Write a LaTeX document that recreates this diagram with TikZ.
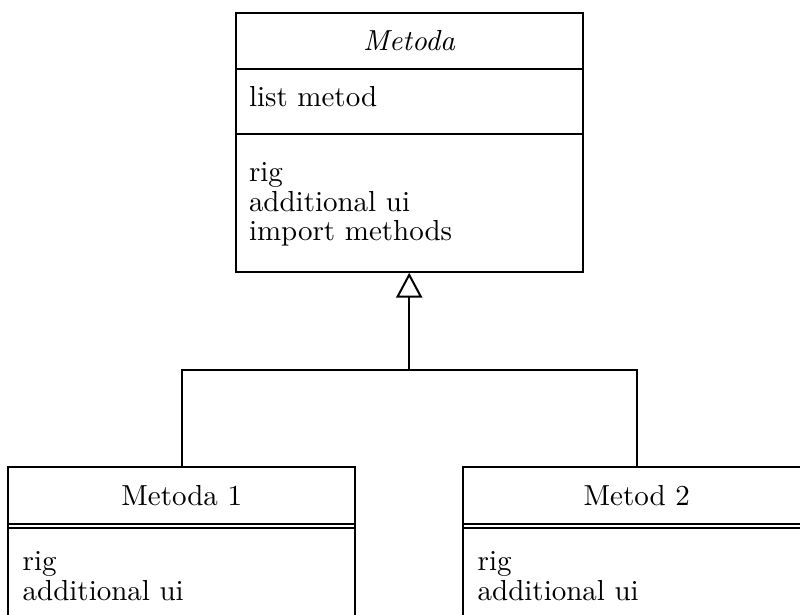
\documentclass[tikz,border=0pt]{standalone}
\usetikzlibrary{arrows.meta,fit}
\begin{document}
\begin{tikzpicture}[x=0.345pt,y=-0.345pt,line width=0.69pt,
  classbox/.style={draw,rectangle,inner sep=0pt},
  lbl/.style={inner sep=0pt,font=\fontsize{10}{10.2}\selectfont},
  member/.style={lbl,anchor=base west},
  title/.style={lbl,anchor=base},
  inherit/.style={-{Triangle[open,length=8.6pt,width=9pt]}},
]
\useasboundingbox (0,0) rectangle (800,614);
\clip (0,0) rectangle (800,614);

% abstract base class
\coordinate (bTL) at (235.7,12.7);
\coordinate (bBR) at (582.7,271.7);
\node[classbox,fit=(bTL)(bBR)] (base) {};
\draw (235.7,69.3) -- (582.7,69.3);
\draw (235.7,134.3) -- (582.7,134.3);
\node[title] (baseName) at (409.2,50.7) {\textit{Metoda}};
\node[member] (baseAttr) at (248,106.7) {list metod};
\node[member] (baseOp1) at (248,181.7) {rig};
\node[member] (baseOp2) at (248,211.7) {additional ui};
\node[member] (baseOp3) at (248,240.7) {import methods};

% first subclass
\coordinate (aTL) at (8.3,467);
\coordinate (aBR) at (355,700);
\node[classbox,fit=(aTL)(aBR)] (subA) {};
\draw (8.3,523.6) -- (355,523.6);
\draw (8.3,528.2) -- (355,528.2);
\node[title] (subAName) at (181.7,505) {Metoda 1};
\node[member] (subAOp1) at (21.7,570) {rig};
\node[member] (subAOp2) at (21.7,600) {additional ui};

% second subclass
\coordinate (cTL) at (463.3,467);
\coordinate (cBR) at (810,700);
\node[classbox,fit=(cTL)(cBR)] (subB) {};
\draw (463.3,523.6) -- (810,523.6);
\draw (463.3,528.2) -- (810,528.2);
\node[title] (subBName) at (636.7,505) {Metod 2};
\node[member] (subBOp1) at (476.7,570) {rig};
\node[member] (subBOp2) at (476.7,600) {additional ui};

% generalization
\coordinate (junction) at (409.2,370);
\draw (subA.north -| 181.7,0) |- (junction) -| (subB.north -| 636.7,0);
\draw[inherit] (junction) -- (base.south);
\end{tikzpicture}
\end{document}
